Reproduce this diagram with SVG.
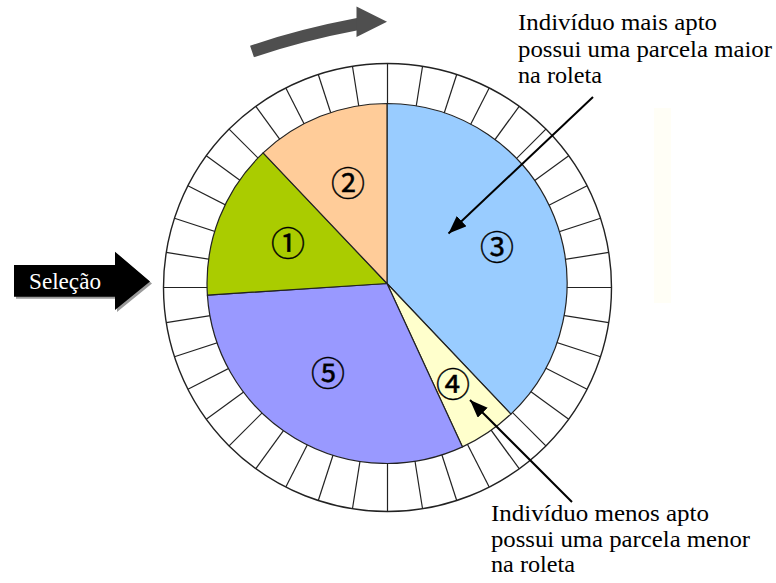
<svg xmlns="http://www.w3.org/2000/svg" xmlns:xlink="http://www.w3.org/1999/xlink" width="776" height="583" viewBox="0 0 776 583">
  <style>
    .tick { stroke: #222; stroke-width: 1.2; }
    .rim { fill: #fff; stroke: #222; stroke-width: 1.4; }
    .slice { stroke: #222; stroke-width: 1.2; stroke-linejoin: round; }
    .num { font-family: "Noto Sans CJK JP", "DejaVu Sans", sans-serif; font-size: 34px; fill: #000; stroke: #000; stroke-width: 0.4; text-anchor: middle; dominant-baseline: central; }
    .note { font-family: "Liberation Serif", "Times New Roman", "DejaVu Serif", serif; font-size: 24px; fill: #000; }
    .pointer { stroke: #000; stroke-width: 2; fill: none; }
  </style>
  <defs>
    <marker id="head" markerUnits="userSpaceOnUse" markerWidth="20" markerHeight="16" refX="18" refY="7" orient="auto">
      <path d="M0,0 L18,7 L0,14 Z" fill="#000"/>
    </marker>
    <line id="spoke" class="tick" x1="163.5" y1="287.5" x2="611.5" y2="287.5"/>
  </defs>

  <rect width="776" height="583" fill="#fff"/>
  <rect x="654" y="108" width="17" height="195" fill="#fffef6"/>

  <!-- rotation direction arrow -->
  <g id="spin-arrow">
    <path d="M252,51.5 Q300,35 358,24" fill="none" stroke="#4f4f4f" stroke-width="12"/>
    <path d="M356.5,6.5 L387,21.7 L356.5,37 Z" fill="#4f4f4f"/>
  </g>

  <!-- outer ring divided into 40 cells -->
  <g id="ring">
    <circle class="rim" cx="387.5" cy="287.5" r="224"/>
    <use xlink:href="#spoke"/>
    <use xlink:href="#spoke" transform="rotate(9 387.5 287.5)"/>
    <use xlink:href="#spoke" transform="rotate(18 387.5 287.5)"/>
    <use xlink:href="#spoke" transform="rotate(27 387.5 287.5)"/>
    <use xlink:href="#spoke" transform="rotate(36 387.5 287.5)"/>
    <use xlink:href="#spoke" transform="rotate(45 387.5 287.5)"/>
    <use xlink:href="#spoke" transform="rotate(54 387.5 287.5)"/>
    <use xlink:href="#spoke" transform="rotate(63 387.5 287.5)"/>
    <use xlink:href="#spoke" transform="rotate(72 387.5 287.5)"/>
    <use xlink:href="#spoke" transform="rotate(81 387.5 287.5)"/>
    <use xlink:href="#spoke" transform="rotate(90 387.5 287.5)"/>
    <use xlink:href="#spoke" transform="rotate(99 387.5 287.5)"/>
    <use xlink:href="#spoke" transform="rotate(108 387.5 287.5)"/>
    <use xlink:href="#spoke" transform="rotate(117 387.5 287.5)"/>
    <use xlink:href="#spoke" transform="rotate(126 387.5 287.5)"/>
    <use xlink:href="#spoke" transform="rotate(135 387.5 287.5)"/>
    <use xlink:href="#spoke" transform="rotate(144 387.5 287.5)"/>
    <use xlink:href="#spoke" transform="rotate(153 387.5 287.5)"/>
    <use xlink:href="#spoke" transform="rotate(162 387.5 287.5)"/>
    <use xlink:href="#spoke" transform="rotate(171 387.5 287.5)"/>
  </g>

  <!-- roulette slices -->
  <g id="slice-3">
    <path class="slice" fill="#99ccff" d="M387,283.5 L387,103.5 A180,180 0 0 1 510.9,414.1 Z"/>
    <text class="num" x="497" y="245">③</text>
  </g>
  <g id="slice-4">
    <path class="slice" fill="#ffffcc" d="M387,283.5 L510.9,414.1 A180,180 0 0 1 462.5,446.9 Z"/>
    <text class="num" x="453" y="382">④</text>
  </g>
  <g id="slice-5">
    <path class="slice" fill="#9999ff" d="M387,283.5 L462.5,446.9 A180,180 0 0 1 207.4,295.1 Z"/>
    <text class="num" x="328" y="371">⑤</text>
  </g>
  <g id="slice-1">
    <path class="slice" fill="#aacc00" d="M387,283.5 L207.4,295.1 A180,180 0 0 1 263.1,152.9 Z"/>
    <text class="num" x="288" y="241">①</text>
  </g>
  <g id="slice-2">
    <path class="slice" fill="#ffcc99" d="M387,283.5 L263.1,152.9 A180,180 0 0 1 387,103.5 Z"/>
    <text class="num" x="348" y="181">②</text>
  </g>

  <!-- selection pointer -->
  <g id="selecao">
    <path d="M16,267 L117,267 L117,253.7 L152,283.5 L117,312 L117,298.7 L16,298.7 Z" fill="#9a9a9a"/>
    <path d="M14,265 L115,265 L115,251.7 L150,281.5 L115,310 L115,296.7 L14,296.7 Z" fill="#000"/>
    <text x="29" y="288.5" font-family="'Liberation Serif', 'Times New Roman', 'DejaVu Serif', serif" font-size="23" fill="#fff" textLength="72" lengthAdjust="spacingAndGlyphs">Seleção</text>
  </g>

  <!-- annotations -->
  <g id="note-best">
    <text class="note" x="518" y="30" textLength="199" lengthAdjust="spacingAndGlyphs">Indivíduo mais apto</text>
    <text class="note" x="518" y="56.5" textLength="254" lengthAdjust="spacingAndGlyphs">possui uma parcela maior</text>
    <text class="note" x="518" y="83" textLength="84" lengthAdjust="spacingAndGlyphs">na roleta</text>
  </g>
  <g id="note-worst">
    <text class="note" x="491" y="520.5" textLength="218" lengthAdjust="spacingAndGlyphs">Indivíduo menos apto</text>
    <text class="note" x="491" y="546.5" textLength="259" lengthAdjust="spacingAndGlyphs">possui uma parcela menor</text>
    <text class="note" x="491" y="572" textLength="84" lengthAdjust="spacingAndGlyphs">na roleta</text>
  </g>

  <g id="connectors">
    <line class="pointer" x1="593" y1="97" x2="448.5" y2="233.5" marker-end="url(#head)"/>
    <line class="pointer" x1="572" y1="502" x2="470" y2="400" marker-end="url(#head)"/>
  </g>
</svg>
